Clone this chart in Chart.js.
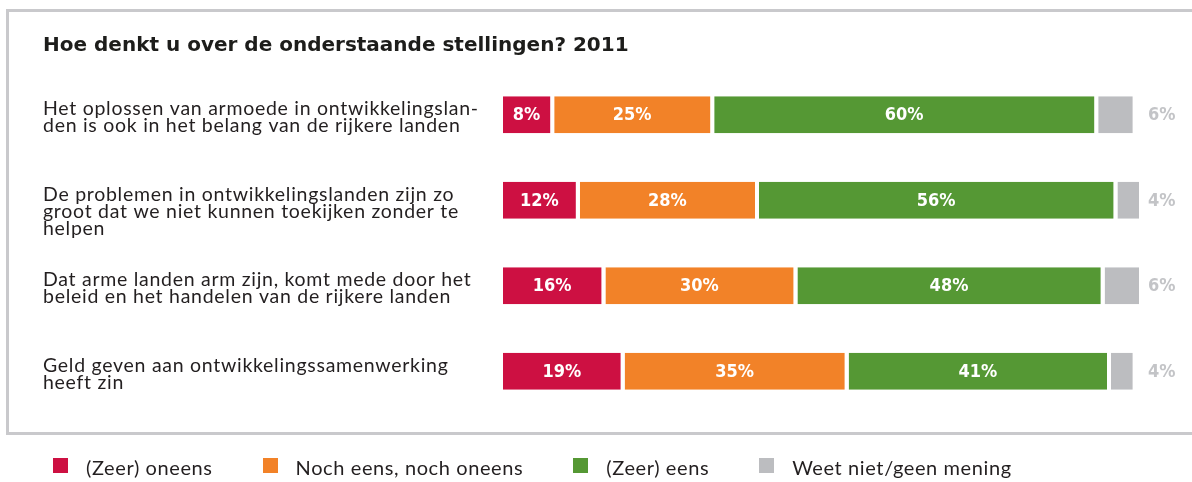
<!DOCTYPE html>
<html><head><meta charset="utf-8">
<script src="https://cdn.jsdelivr.net/npm/chart.js@4/dist/chart.umd.min.js"></script>
<style>
html,body{margin:0;padding:0;background:#fff;}
#wrap{position:relative;width:1192px;height:482px;overflow:hidden;}
#box{position:absolute;left:6px;top:9px;width:1200px;height:420px;border:3px solid #c9c9cc;pointer-events:none;}
#title{position:absolute;left:43px;top:32px;font-family:'DejaVu Sans',sans-serif;font-weight:bold;font-size:20px;color:#1d1d1b;white-space:nowrap;}
canvas{position:absolute;left:0;top:0;}
#legend{position:absolute;left:53px;top:455px;display:flex;align-items:center;font-family:Lato,sans-serif;font-size:20px;letter-spacing:0.6px;color:#231f20;white-space:nowrap;}
#legend .it{display:flex;align-items:center;margin-right:50px;}
#legend .sq{width:15px;height:15px;margin-right:18px;margin-top:-4px;}
</style>
</head><body>
<div id="wrap">
<canvas id="c" width="1192" height="482"></canvas>
<div id="box"></div>
<div id="title">Hoe denkt u over de onderstaande stellingen? 2011</div>
<div id="legend"></div>
</div>
<script>
const categories = [
  ["Het oplossen van armoede in ontwikkelingslan-", "den is ook in het belang van de rijkere landen"],
  ["De problemen in ontwikkelingslanden zijn zo", "groot dat we niet kunnen toekijken zonder te", "helpen"],
  ["Dat arme landen arm zijn, komt mede door het", "beleid en het handelen van de rijkere landen"],
  ["Geld geven aan ontwikkelingssamenwerking", "heeft zin"]
];
const seriesNames = ["(Zeer) oneens", "Noch eens, noch oneens", "(Zeer) eens", "Weet niet/geen mening"];
const zeerOneens = [8, 12, 16, 19];
const nochNoch = [25, 28, 30, 35];
const zeerEens = [60, 56, 48, 41];
const weetNiet = [6, 4, 6, 4];
const colors = ["#cd1042", "#f28228", "#559834", "#bcbdc0"];

const values = [zeerOneens, nochNoch, zeerEens, weetNiet];
const datasets = values.map((v, i) => ({
  label: seriesNames[i],
  data: v,
  backgroundColor: colors[i],
  borderColor: "#ffffff",
  borderWidth: {top: 0, bottom: 0, left: 0, right: 4},
  borderSkipped: "start",
  barThickness: 37,
  inflateAmount: 0
}));

const labelPlugin = {
  id: "labels",
  afterDatasetsDraw(chart) {
    const ctx = chart.ctx;
    ctx.save();
    // category texts
    const meta0 = chart.getDatasetMeta(0);
    ctx.font = "19.5px Lato, sans-serif";
    if ("letterSpacing" in ctx) ctx.letterSpacing = "0.72px";
    ctx.fillStyle = "#231f20";
    ctx.textAlign = "left";
    ctx.textBaseline = "alphabetic";
    meta0.data.forEach((el, i) => {
      const top = el.y - el.height / 2;
      categories[i].forEach((line, j) => {
        ctx.fillText(line, 43, top + 19 + j * 17);
      });
    });
    if ("letterSpacing" in ctx) ctx.letterSpacing = "0px";
    // value labels
    ctx.font = "bold 18px 'Liberation Sans Narrow', 'DejaVu Sans Condensed', sans-serif";
    ctx.textBaseline = "middle";
    chart.data.datasets.forEach((ds, di) => {
      const meta = chart.getDatasetMeta(di);
      meta.data.forEach((el, i) => {
        const txt = ds.data[i] + "%";
        if (di < 3) {
          ctx.fillStyle = "#ffffff";
          ctx.textAlign = "center";
          ctx.fillText(txt, (el.base + el.x - 4) / 2, el.y + 1);
        } else {
          ctx.fillStyle = "#c3c4c7";
          ctx.textAlign = "left";
          ctx.fillText(txt, chart.chartArea.right + 5, el.y + 1);
        }
      });
    });
    ctx.restore();
  }
};

const chart = new Chart(document.getElementById("c"), {
  type: "bar",
  data: { labels: categories.map(c => c.join(" ")), datasets },
  options: {
    indexAxis: "y",
    responsive: false,
    animation: false,
    layout: { padding: { left: 503, right: 49, top: 72, bottom: 68 } },
    scales: {
      x: { stacked: true, min: 0, max: 100, display: false },
      y: { stacked: true, display: false }
    },
    plugins: { legend: { display: false }, tooltip: { enabled: false }, title: { display: false } }
  },
  plugins: [labelPlugin]
});

const leg = document.getElementById("legend");
chart.data.datasets.forEach(ds => {
  const it = document.createElement("div");
  it.className = "it";
  const sq = document.createElement("span");
  sq.className = "sq";
  sq.style.background = ds.backgroundColor;
  const tx = document.createElement("span");
  tx.textContent = ds.label;
  it.appendChild(sq); it.appendChild(tx);
  leg.appendChild(it);
});
</script>
</body></html>
